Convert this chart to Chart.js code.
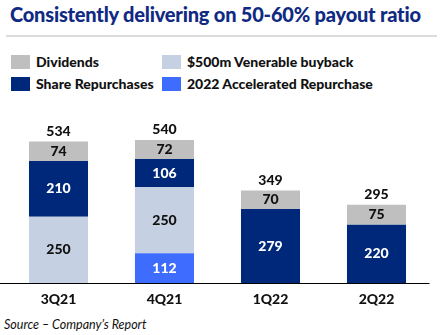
<!DOCTYPE html>
<html>
<head>
<meta charset="utf-8">
<script src="https://cdn.jsdelivr.net/npm/chart.js@4/dist/chart.umd.min.js"></script>
<style>
  html, body { margin: 0; padding: 0; background: #fff; }
  body { width: 440px; height: 335px; position: relative; overflow: hidden; font-family: Lato, "Open Sans", sans-serif; }
  #title { position: absolute; left: 10px; top: 2px; font-size: 20px; font-weight: 900; color: #102a83; white-space: nowrap; letter-spacing: -0.2px; }
  #rule { position: absolute; left: 6px; top: 35px; width: 431px; height: 2px; background: #dcdcdc; }
  #legend { position: absolute; left: 11px; top: 55px; }
  .item { position: absolute; white-space: nowrap; font-size: 14px; font-weight: 900; color: #111; line-height: 14px; }
  .item span { position: absolute; left: 0; top: 0; width: 19px; height: 14px; }
  .item b { position: absolute; left: 25px; top: 0; font-weight: 900; }
  #wrap { position: absolute; left: 0; top: 100px; width: 440px; height: 213px; }
  #source { position: absolute; left: 4px; top: 317px; font-size: 12.5px; font-style: italic; color: #111; }
</style>
</head>
<body>
<div id="title">Consistently delivering on 50-60% payout ratio</div>
<div id="rule"></div>
<div id="legend"></div>
<div id="wrap"><canvas id="chart"></canvas></div>
<div id="source">Source – Company’s Report</div>
<script>
const quarters = ["3Q21", "4Q21", "1Q22", "2Q22"];
const accelerated = [0, 112, 0, 0];
const venerable = [250, 250, 0, 0];
const repurchases = [210, 106, 279, 220];
const dividends = [74, 72, 70, 75];

// bottom to top in each stack
const series = [
  { label: "2022 Accelerated Repurchase", data: accelerated, color: "#3d6cff", text: "#fff" },
  { label: "$500m Venerable buyback", data: venerable, color: "#c5d0e2", text: "#111" },
  { label: "Share Repurchases", data: repurchases, color: "#00287a", text: "#fff" },
  { label: "Dividends", data: dividends, color: "#bfbfbf", text: "#111" },
];

// two-column legend, laid out like the slide
const legendSlots = [
  ["Dividends", 0, 0], ["$500m Venerable buyback", 151, 0],
  ["Share Repurchases", 0, 22], ["2022 Accelerated Repurchase", 151, 22],
];
const legend = document.getElementById("legend");
legendSlots.forEach(([name, x, y]) => {
  const s = series.find(d => d.label === name);
  const el = document.createElement("div");
  el.className = "item";
  el.style.left = x + "px";
  el.style.top = y + "px";
  el.innerHTML = `<span style="background:${s.color}"></span><b>${name}</b>`;
  legend.appendChild(el);
});

const FONT = { family: "Lato, 'Open Sans', sans-serif", size: 14, weight: 900 };

const valueLabels = {
  id: "valueLabels",
  afterDatasetsDraw(chart) {
    const { ctx } = chart;
    ctx.save();
    ctx.font = `900 ${FONT.size}px ${FONT.family}`;
    ctx.textAlign = "center";
    ctx.textBaseline = "middle";
    chart.data.datasets.forEach((ds, i) => {
      chart.getDatasetMeta(i).data.forEach((bar, j) => {
        const v = ds.data[j];
        if (!v) return;
        ctx.fillStyle = series[i].text;
        ctx.fillText(v, bar.x, (bar.y + bar.base) / 2);
      });
    });
    // totals above each stack
    const top = chart.getDatasetMeta(chart.data.datasets.length - 1).data;
    ctx.fillStyle = "#111";
    quarters.forEach((q, j) => {
      const total = series.reduce((s, d) => s + d.data[j], 0);
      ctx.fillText(total, top[j].x, top[j].y - 10);
    });
    // baseline
    const y0 = Math.round(chart.scales.y.getPixelForValue(0)) + 0.5;
    ctx.strokeStyle = "#000";
    ctx.lineWidth = 1;
    ctx.beginPath();
    ctx.moveTo(0, y0);
    ctx.lineTo(chart.chartArea.right, y0);
    ctx.stroke();
    ctx.restore();
  },
};

new Chart(document.getElementById("chart"), {
  type: "bar",
  data: {
    labels: quarters,
    datasets: series.map(s => ({
      label: s.label,
      data: s.data,
      backgroundColor: s.color,
      borderWidth: 0,
      barPercentage: 0.557,
      categoryPercentage: 1,
    })),
  },
  options: {
    responsive: true,
    maintainAspectRatio: false,
    animation: false,
    layout: { padding: { left: 5.5, right: 10.5, top: 24, bottom: 0 } },
    plugins: { legend: { display: false }, tooltip: { enabled: false } },
    scales: {
      x: {
        stacked: true,
        grid: { display: false, drawTicks: false },
        border: { display: false },
        ticks: { color: "#111", font: FONT, padding: 8 },
        afterFit: s => { s.height = 30; },
      },
      y: { stacked: true, display: false, min: 0, max: 600 },
    },
  },
  plugins: [valueLabels],
});
</script>
</body>
</html>
